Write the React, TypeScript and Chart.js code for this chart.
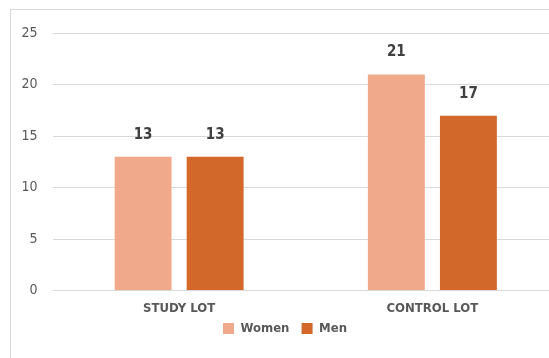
import React, { useEffect, useRef } from "react";
import { Chart, registerables } from "chart.js";

Chart.register(...registerables);

const categories = ["STUDY LOT", "CONTROL LOT"];
const women = [13, 21];
const men = [13, 17];
const yTicks = [0, 5, 10, 15, 20, 25];

const FONT = "'Liberation Sans Narrow', 'DejaVu Sans Condensed', sans-serif";

const valueLabels = {
  id: "valueLabels",
  afterDatasetsDraw(chart: any) {
    const ctx = chart.ctx;
    ctx.save();
    ctx.font = `bold 15px ${FONT}`;
    ctx.fillStyle = "#404040";
    ctx.textAlign = "center";
    ctx.textBaseline = "middle";
    chart.data.datasets.forEach((ds: any, i: number) => {
      const meta = chart.getDatasetMeta(i);
      meta.data.forEach((bar: any, j: number) => {
        ctx.fillText(String(ds.data[j]), bar.x, bar.y - 22);
      });
    });
    ctx.restore();
  },
};

export default function App() {
  const ref = useRef<HTMLCanvasElement | null>(null);
  useEffect(() => {
    if (!ref.current) return;
    const chart = new Chart(ref.current, {
      type: "bar",
      data: {
        labels: categories,
        datasets: [
          { label: "Women", data: women, backgroundColor: "#F0A98A", categoryPercentage: 0.569, barPercentage: 0.79 },
          { label: "Men", data: men, backgroundColor: "#D2692B", categoryPercentage: 0.569, barPercentage: 0.79 },
        ],
      },
      options: {
        animation: false,
        responsive: false,
        maintainAspectRatio: false,
        layout: { padding: { top: 13, right: 12, left: 0, bottom: 23 } },
        plugins: {
          legend: {
            position: "bottom",
            labels: {
              boxWidth: 11,
              boxHeight: 11,
              padding: 4,
              color: "#595959",
              font: { family: FONT, size: 13, weight: "bold" },
              generateLabels: (chart: any) =>
                Chart.defaults.plugins.legend.labels.generateLabels(chart).map((l: any, i: number, arr: any[]) => ({
                  ...l,
                  text: i < arr.length - 1 ? l.text + "  " : l.text,
                })),
            },
          },
          tooltip: { enabled: false },
        },
        scales: {
          x: {
            grid: { display: false },
            border: { display: false },
            ticks: { color: "#595959", padding: 2, font: { family: FONT, size: 13, weight: "bold" } },
          },
          y: {
            min: 0,
            max: 25,
            afterFit: (s: any) => { s.width = 41.5; },
            afterBuildTicks: (s: any) => { s.ticks = yTicks.map((v) => ({ value: v })); },
            grid: { color: "#D9D9D9", drawTicks: false },
            border: { display: false },
            ticks: { color: "#595959", padding: 15, font: { family: FONT, size: 14 } },
          },
        },
      },
      plugins: [valueLabels],
    });
    return () => chart.destroy();
  }, []);
  return (
    <div
      style={{
        position: "absolute",
        left: 10,
        top: 9,
        width: 562,
        height: 360,
        border: "1px solid #D9D9D9",
        boxSizing: "border-box",
        background: "#fff",
      }}
    >
      <canvas ref={ref} width={560} height={358} style={{ display: "block" }} />
    </div>
  );
}
